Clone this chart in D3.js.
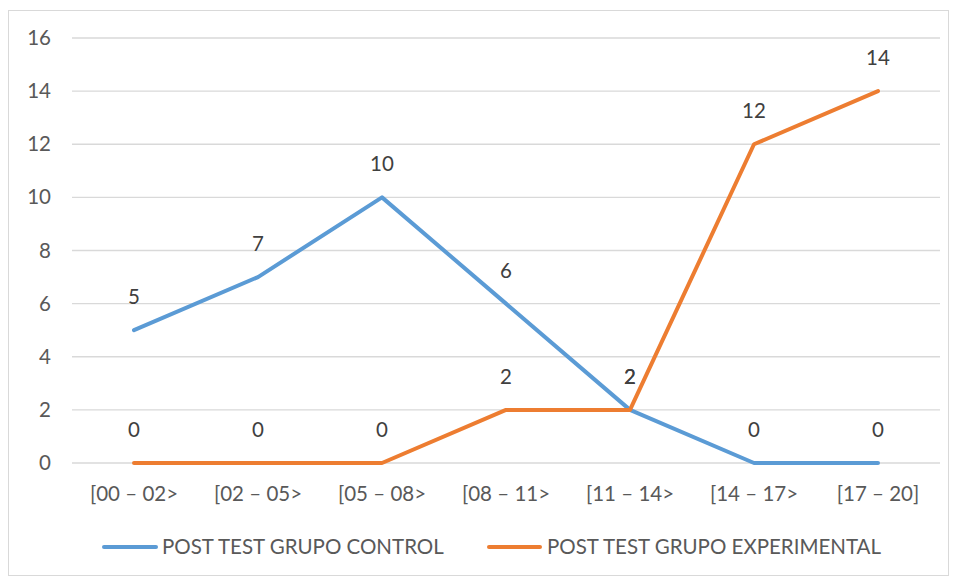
<!DOCTYPE html>
<html><head><meta charset="utf-8">
<script src="https://cdn.jsdelivr.net/npm/d3@7"></script>
<style>body{margin:0;background:#fff}svg{display:block}</style>
</head><body>
<script>
const categories = ["[00 – 02>","[02 – 05>","[05 – 08>","[08 – 11>","[11 – 14>","[14 – 17>","[17 – 20]"];
const controlValues = [5,7,10,6,2,0,0];
const experimentalValues = [0,0,0,2,2,12,14];
const yTicks = [0,2,4,6,8,10,12,14,16];
const seriesNames = ["POST TEST GRUPO CONTROL","POST TEST GRUPO EXPERIMENTAL"];
const colors = ["#5B9BD5","#ED7D31"];

const W=954,H=579;
const svg=d3.select("body").append("svg").attr("width",W).attr("height",H);
const font="Lato, 'Open Sans', sans-serif";
const fs=20.5;
svg.append("rect").attr("x",8.5).attr("y",10.5).attr("width",940).attr("height",565).attr("fill","#fff").attr("stroke","#d9d9d9");

const x=d3.scaleBand().domain(categories).range([72,940]);
const y=d3.scaleLinear().domain([0,16]).range([463,38]);

const grid=svg.append("g");
grid.selectAll("line").data(yTicks).join("line")
 .attr("x1",72).attr("x2",940).attr("y1",d=>y(d)).attr("y2",d=>y(d))
 .attr("stroke","#d9d9d9").attr("stroke-width",1.3);

const yAxis=d3.axisLeft(y).tickValues(yTicks).tickSize(0).tickPadding(0);
const ga=svg.append("g").attr("transform","translate(51,0)").call(yAxis);
ga.select(".domain").remove();
ga.selectAll("text").attr("font-family",font).attr("font-size",fs).attr("fill","#595959");

const xAxis=d3.axisBottom(x).tickSize(0).tickPadding(0);
const gx=svg.append("g").attr("transform","translate(0,486)").call(xAxis);
gx.select(".domain").remove();
gx.selectAll("text").attr("font-family",font).attr("font-size",fs).attr("fill","#595959");

const series=[controlValues,experimentalValues];
const line=d3.line().x((d,i)=>x(categories[i])+x.bandwidth()/2).y(d=>y(d));
series.forEach((vals,si)=>{
  svg.append("path").datum(vals).attr("d",line).attr("fill","none")
   .attr("stroke",colors[si]).attr("stroke-width",4).attr("stroke-linecap","round").attr("stroke-linejoin","round");
});
series.forEach((vals,si)=>{
  svg.append("g").selectAll("text").data(vals).join("text")
   .attr("x",(d,i)=>x(categories[i])+x.bandwidth()/2)
   .attr("y",d=>y(d)-26)
   .attr("text-anchor","middle").attr("font-family",font).attr("font-size",fs).attr("fill","#404040")
   .text(d=>d);
});

const legend=[{x0:104,x1:156,tx:162},{x0:489,x1:540,tx:547}];
legend.forEach((l,i)=>{
  svg.append("line").attr("x1",l.x0).attr("x2",l.x1).attr("y1",547).attr("y2",547)
   .attr("stroke",colors[i]).attr("stroke-width",4).attr("stroke-linecap","round");
  svg.append("text").attr("x",l.tx).attr("y",554).attr("font-family",font).attr("font-size",fs)
   .attr("fill","#595959").text(seriesNames[i]);
});
</script>
</body></html>
